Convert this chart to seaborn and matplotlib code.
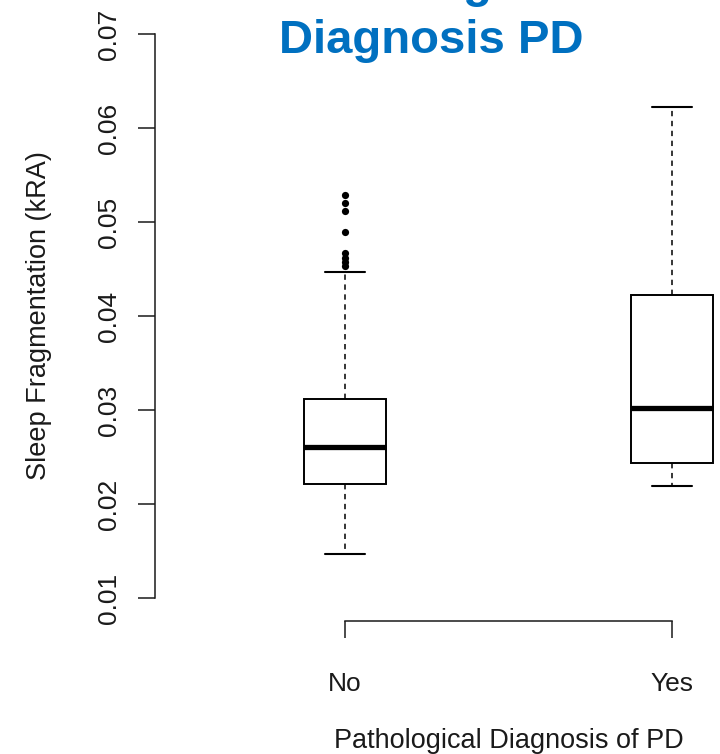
import numpy as np
import pandas as pd
import matplotlib
matplotlib.use("Agg")
import matplotlib.pyplot as plt
import seaborn as sns

# ---- data (box summaries in kRA) ----
categories = ["No", "Yes"]
whisker_low = [0.01465, 0.02195]
quartile_1 = [0.02213, 0.02439]
medians = [0.02610, 0.03018]
quartile_3 = [0.03117, 0.04223]
whisker_high = [0.04468, 0.06227]
outliers_no = [0.05287, 0.05205, 0.05120, 0.04897, 0.04670, 0.04617, 0.04574, 0.04532]
y_ticks = [0.01, 0.02, 0.03, 0.04, 0.05, 0.06, 0.07]
y_tick_labels = ["0.01", "0.02", "0.03", "0.04", "0.05", "0.06", "0.07"]

title_line1 = "Pathological"
title_line2 = "Diagnosis PD"
x_label = "Pathological Diagnosis of PD"
y_label = "Sleep Fragmentation (kRA)"

sns.set_theme(style="ticks")
plt.rcParams["font.family"] = ["Liberation Sans", "DejaVu Sans"]

rows = []
for i, c in enumerate(categories):
    for v in (whisker_low[i], quartile_1[i], medians[i], quartile_3[i], whisker_high[i]):
        rows.append({"diagnosis": c, "kRA": v})
df = pd.DataFrame(rows)
out_df = pd.DataFrame({"diagnosis": ["No"] * len(outliers_no), "kRA": outliers_no})

W, H = 720, 754
fig = plt.figure(figsize=(W / 100, H / 100), dpi=100)
ax = fig.add_axes([155.3 / W, 1 - 620.6 / H, 706.3 / W, 609.2 / H])

ink = "#1a1a1a"
sns.boxplot(
    data=df, x="diagnosis", y="kRA", order=categories,
    width=0.25, whis=(0, 100), color="white", linecolor="black",
    linewidth=1.4, saturation=1, showfliers=False,
    medianprops=dict(linewidth=3.8, color="black", solid_capstyle="butt"),
    whiskerprops=dict(linestyle=(0, (3.5, 3)), linewidth=1.1, color="black"),
    capprops=dict(linewidth=1.5, color="black"),
    boxprops=dict(facecolor="white", edgecolor="black", linewidth=1.4),
    ax=ax,
)
sns.stripplot(
    data=out_df, x="diagnosis", y="kRA", order=categories,
    jitter=False, color="black", size=5.2, linewidth=0, ax=ax,
)

ax.set_xlim(-0.58, 1.58)
ax.set_ylim(0.0076, 0.0724)
ax.set_yticks(y_ticks)
ax.set_yticklabels(y_tick_labels)
ax.set_xticks(range(len(categories)))
ax.set_xticklabels(categories)

for s in ("top", "right"):
    ax.spines[s].set_visible(False)
ax.spines["left"].set_bounds(y_ticks[0], y_ticks[-1])
ax.spines["bottom"].set_bounds(0, len(categories) - 1)
for s in ("left", "bottom"):
    ax.spines[s].set_linewidth(1.1)
    ax.spines[s].set_color(ink)

ax.tick_params(axis="both", direction="out", length=12, width=1.1, color=ink,
               labelsize=19, labelcolor=ink)
ax.tick_params(axis="y", pad=12.7)
ax.tick_params(axis="x", pad=25)
plt.setp(ax.get_yticklabels(), rotation=90, va="center")

ax.set_xlabel(x_label, fontsize=19.5, color=ink)
ax.set_ylabel(y_label, fontsize=19.5, color=ink)
ax.xaxis.set_label_coords(0.5, -0.1763)
ax.yaxis.set_label_coords(-0.1463, 0.5)

tx = 431.3 / W
fig.text(tx, 1 + 3 / H, title_line1, ha="center", va="baseline", fontsize=34,
         fontweight="bold", color="#0070C0")
fig.text(tx, 1 - 53 / H, title_line2, ha="center", va="baseline", fontsize=34,
         fontweight="bold", color="#0070C0")

fig.savefig("out.png", dpi=100)
